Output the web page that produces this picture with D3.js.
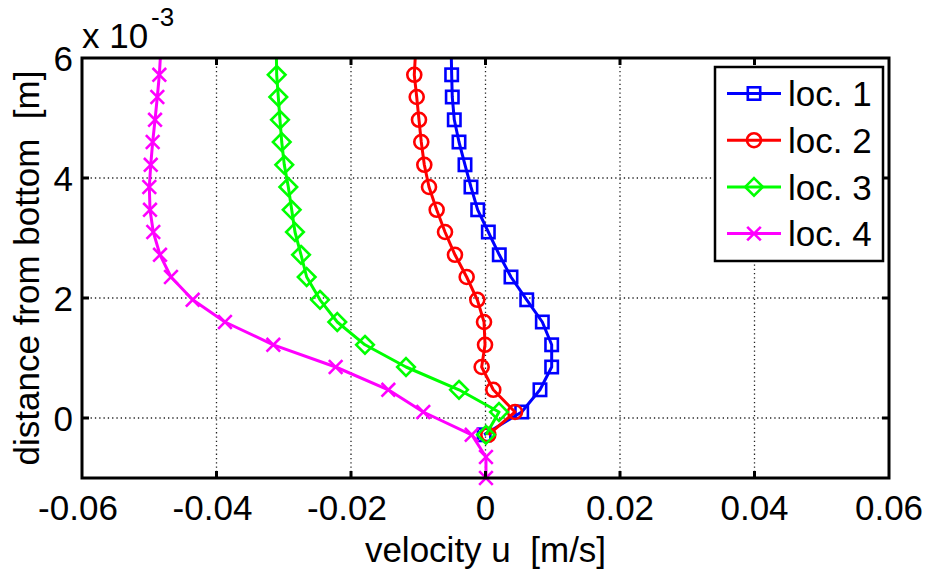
<!DOCTYPE html>
<html><head><meta charset="utf-8">
<script src="https://cdn.jsdelivr.net/npm/d3@7"></script>
<style>body{margin:0;background:#fff;}svg{display:block;font-family:"Liberation Sans",Arial,sans-serif;}text{white-space:pre;}</style>
</head><body><svg id="c" width="932" height="576"></svg>
<script>
// depth levels in units of 1e-3 m (top one lies just above the visible range)
const depth = [6.1, 5.72, 5.35, 4.97, 4.6, 4.22, 3.85, 3.47, 3.1, 2.72, 2.35, 1.97, 1.6, 1.22, 0.85, 0.47, 0.1, -0.28, -0.65, -1.0];
const loc1 = [-0.0051, -0.00503, -0.00494, -0.00464, -0.00394, -0.00305, -0.00216, -0.00116, 0.00042, 0.00205, 0.00379, 0.00613, 0.00845, 0.00984, 0.00984, 0.0081, 0.00538, -0.0002];
const loc2 = [-0.0104, -0.01059, -0.01023, -0.00989, -0.00955, -0.0091, -0.0084, -0.00726, -0.00602, -0.00454, -0.0028, -0.00122, -0.00022, -0.00007, -0.00057, 0.00116, 0.00439, 0.00042];
const loc3 = [-0.0311, -0.03105, -0.03081, -0.03056, -0.0303, -0.02992, -0.02932, -0.02882, -0.02833, -0.02743, -0.02659, -0.02461, -0.02204, -0.01792, -0.01182, -0.00394, 0.00201, 0.00007];
const loc4 = [-0.0483, -0.0485, -0.0488, -0.04914, -0.04949, -0.04978, -0.04999, -0.04989, -0.0494, -0.0484, -0.04677, -0.04354, -0.03874, -0.03155, -0.02228, -0.01445, -0.00925, -0.00205, 0.00007, 0.00007];
const seriesNames = ["loc. 1", "loc. 2", "loc. 3", "loc. 4"];
const seriesColors = ["#0000ff", "#ff0000", "#00ff00", "#ff00ff"];
const seriesMarkers = ["square", "circle", "diamond", "cross"];
const xTicks = [-0.06, -0.04, -0.02, 0, 0.02, 0.04, 0.06];
const xTickLabels = ["-0.06", "-0.04", "-0.02", "0", "0.02", "0.04", "0.06"];
const yTicks = [0, 2, 4, 6];
const yTickLabels = ["0", "2", "4", "6"];

const svg = d3.select("#c");
const L = 82, R = 889, T = 58, B = 478;
const x = d3.scaleLinear().domain([-0.06, 0.06]).range([L, R]);
const y = d3.scaleLinear().domain([-1, 6]).range([B, T]);
const FS = 35;

svg.append("defs").append("clipPath").attr("id","clip")
  .append("rect").attr("x", L).attr("y", T).attr("width", R - L).attr("height", B - T);

// grid
const grid = svg.append("g").attr("stroke", "#222").attr("stroke-width", 1.3).attr("stroke-dasharray", "1.3,3");
xTicks.slice(1, -1).forEach(v => grid.append("line").attr("x1", x(v)).attr("x2", x(v)).attr("y1", T).attr("y2", B));
yTicks.filter(v => v < 6).forEach(v => grid.append("line").attr("x1", L).attr("x2", R).attr("y1", y(v)).attr("y2", y(v)));

// series
const all = [loc1, loc2, loc3, loc4];
function marker(g, type, cx, cy) {
  if (type === "square") g.append("rect").attr("x", cx - 6.2).attr("y", cy - 6.2).attr("width", 12.4).attr("height", 12.4);
  else if (type === "circle") g.append("circle").attr("cx", cx).attr("cy", cy).attr("r", 7);
  else if (type === "diamond") g.append("path").attr("d", `M${cx},${cy-8.8}L${cx+8.8},${cy}L${cx},${cy+8.8}L${cx-8.8},${cy}Z`);
  else if (type === "cross") g.append("path").attr("d", `M${cx-6.8},${cy-6.8}L${cx+6.8},${cy+6.8}M${cx-6.8},${cy+6.8}L${cx+6.8},${cy-6.8}`);
}
const line = d3.line().x(d => x(d[0])).y(d => y(d[1]));
all.forEach((vals, i) => {
  const pts = vals.map((v, k) => [v, depth[k]]);
  const g = svg.append("g");
  g.append("path").attr("clip-path", "url(#clip)").attr("d", line(pts)).attr("fill", "none")
    .attr("stroke", seriesColors[i]).attr("stroke-width", 3).attr("stroke-linejoin", "round");
  const mg = g.append("g").attr("fill", "none").attr("stroke", seriesColors[i]).attr("stroke-width", 2.6);
  pts.filter(p => p[1] <= 6 && p[1] >= -1).forEach(p => marker(mg, seriesMarkers[i], x(p[0]), y(p[1])));
});

// axes box
const ax = svg.append("g").attr("stroke", "#000").attr("stroke-width", 3).attr("fill", "none");
ax.append("rect").attr("x", L).attr("y", T).attr("width", R - L).attr("height", B - T);
const tk = 7;
xTicks.slice(1, -1).forEach(v => {
  ax.append("line").attr("x1", x(v)).attr("x2", x(v)).attr("y1", B).attr("y2", B - tk);
  ax.append("line").attr("x1", x(v)).attr("x2", x(v)).attr("y1", T).attr("y2", T + tk);
});
yTicks.filter(v => v < 6).forEach(v => {
  ax.append("line").attr("x1", L).attr("x2", L + tk).attr("y1", y(v)).attr("y2", y(v));
  ax.append("line").attr("x1", R).attr("x2", R - tk).attr("y1", y(v)).attr("y2", y(v));
});

// tick labels
const tl = svg.append("g").attr("font-size", FS).attr("fill", "#000");
xTicks.forEach((v, i) => tl.append("text").attr("x", x(v) - (v < 0 ? 4 : 0)).attr("y", 520).attr("text-anchor", "middle").text(xTickLabels[i]));
yTicks.forEach((v, i) => tl.append("text").attr("x", 73).attr("y", y(v)).attr("dy", "0.36em").attr("text-anchor", "end").text(yTickLabels[i]));
// exponent
tl.append("text").attr("x", 82).attr("y", 48).text("x 10");
tl.append("text").attr("x", 151).attr("y", 26).attr("font-size", 26).text("-3");

// axis labels
svg.append("text").attr("x", x(0)).attr("y", 562).attr("text-anchor", "middle").attr("font-size", FS).text("velocity u  [m/s]");
svg.append("text").attr("transform", `translate(39,${(T + B) / 2}) rotate(-90)`).attr("text-anchor", "middle")
  .attr("font-size", FS).text("distance from bottom  [m]");

// legend
const lg = svg.append("g");
lg.append("rect").attr("x", 715).attr("y", 67).attr("width", 168).attr("height", 194)
  .attr("fill", "#fff").attr("stroke", "#000").attr("stroke-width", 2.5);
seriesNames.forEach((n, i) => {
  const cy = 93.5 + i * 46.7;
  lg.append("line").attr("x1", 727).attr("x2", 781).attr("y1", cy).attr("y2", cy).attr("stroke", seriesColors[i]).attr("stroke-width", 3);
  const mg = lg.append("g").attr("fill", "none").attr("stroke", seriesColors[i]).attr("stroke-width", 2.6);
  marker(mg, seriesMarkers[i], 754, cy);
  lg.append("text").attr("x", 788).attr("y", cy).attr("dy", "0.36em").attr("font-size", FS).text(n);
});
</script></body></html>
